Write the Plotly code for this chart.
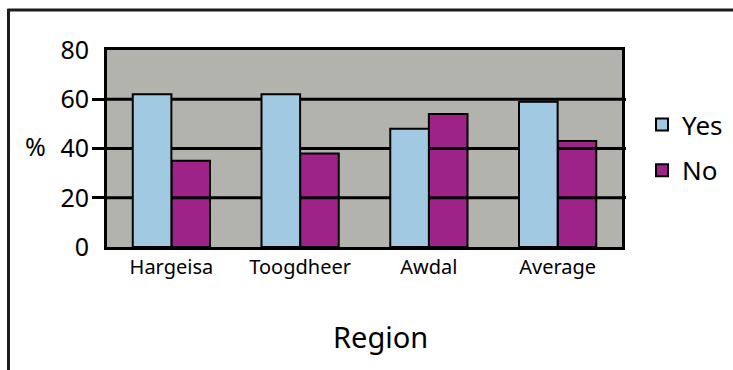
import plotly.graph_objects as go

# Survey responses by region (%)
regions = ["Hargeisa", "Toogdheer", "Awdal", "Average"]
yes_pct = [62, 62, 48, 59]
no_pct = [35, 38, 54, 43]
y_ticks = [0, 20, 40, 60, 80]
grid_levels = [20, 40, 60]

W, H = 733, 370
L, R, T, B = 107, 111, 50, 123
FONT = "Noto Sans"
GRAY = "#b3b3ae"
BLUE = "#a1c9e2"
MAGENTA = "#9e2389"

xpos = list(range(len(regions)))

fig = go.Figure()

# "No" bars sit underneath the horizontal grid lines
fig.add_trace(go.Bar(
    x=xpos, y=no_pct, name="No", width=0.3, offset=0.0,
    marker=dict(color=MAGENTA, line=dict(color="black", width=2)),
    xaxis="x", yaxis="y", legendrank=2, legendgroup="no",
))

# horizontal grid lines drawn as a line trace
gx, gy = [], []
for lv in grid_levels:
    gx += [-0.5, len(regions) - 0.5, None]
    gy += [lv, lv, None]
fig.add_trace(go.Scatter(
    x=gx, y=gy, mode="lines", line=dict(color="black", width=3),
    showlegend=False, hoverinfo="skip", xaxis="x", yaxis="y",
))

# "Yes" bars on an overlaid axis so they cover the grid lines
fig.add_trace(go.Bar(
    x=xpos, y=yes_pct, name="Yes", width=0.3, offset=-0.3,
    marker=dict(color=BLUE, line=dict(color="black", width=2)),
    xaxis="x", yaxis="y2", legendrank=1, legendgroup="yes",
))

yr = [0, 80]
fig.update_layout(
    width=W, height=H,
    margin=dict(l=L, r=R, t=T, b=B, pad=0, autoexpand=False),
    paper_bgcolor="white",
    plot_bgcolor=GRAY,
    font=dict(family=FONT, color="black"),
    barmode="overlay",
    xaxis=dict(
        range=[-0.5, len(regions) - 0.5],
        tickmode="array", tickvals=xpos, ticktext=regions,
        tickfont=dict(size=20), ticks="", ticklabelstandoff=0,
        showgrid=False, zeroline=False, automargin=False,
        showline=True, mirror=True, linecolor="black", linewidth=3,
    ),
    yaxis=dict(
        range=yr, tickmode="array", tickvals=y_ticks,
        tickfont=dict(size=25), ticks="", ticklabelstandoff=10,
        showgrid=False, zeroline=False, automargin=False,
        showline=True, mirror=True, linecolor="black", linewidth=3,
        minor=dict(tickmode="array", tickvals=grid_levels, ticks="outside",
                   ticklen=12, tickwidth=3, tickcolor="black", showgrid=False),
    ),
    yaxis2=dict(
        range=yr, overlaying="y", side="right", automargin=False,
        tickmode="array", tickvals=grid_levels, ticks="outside",
        ticklen=3, tickwidth=3, tickcolor="black",
        showticklabels=False, showgrid=False, zeroline=False, showline=False,
    ),
    legend=dict(
        x=(642 - L) / (W - L - R), y=(T - 101) / (H - T - B) + 1,
        xanchor="left", yanchor="top",
        font=dict(size=26), bgcolor="rgba(0,0,0,0)",
        traceorder="grouped", tracegroupgap=9,
        itemsizing="constant",
    ),
    showlegend=True,
)


def px_x(p):
    return (p - L) / (W - L - R)


def px_y(p):
    return 1 - (p - T) / (H - T - B)


annotations = [
    dict(text="%", x=px_x(35), y=px_y(146), xref="paper", yref="paper",
         showarrow=False, font=dict(size=25), xanchor="center", yanchor="middle"),
    dict(text="Region", x=px_x(380), y=px_y(336), xref="paper", yref="paper",
         showarrow=False, font=dict(size=29), xanchor="center", yanchor="middle"),
]
fig.update_layout(annotations=annotations)

# outer frame: top and left edges
fig.add_shape(type="line", xref="paper", yref="paper",
              x0=px_x(7.5), x1=px_x(W + 5), y0=px_y(10), y1=px_y(10),
              line=dict(color="#1c1c1c", width=3))
fig.add_shape(type="line", xref="paper", yref="paper",
              x0=px_x(8.5), x1=px_x(8.5), y0=px_y(9), y1=px_y(H + 5),
              line=dict(color="#1c1c1c", width=3))

fig.write_html("out.html")
